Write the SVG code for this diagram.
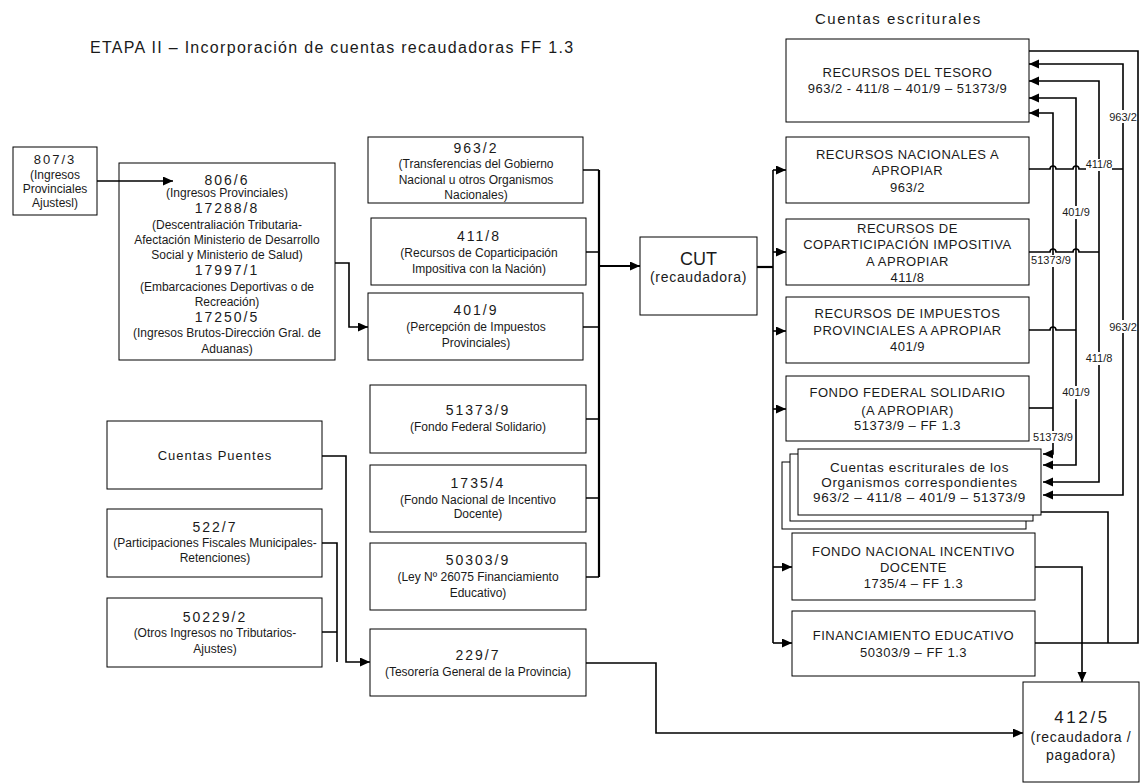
<svg xmlns="http://www.w3.org/2000/svg" width="1141" height="784" viewBox="0 0 1141 784">
<style>
.box{fill:#fff;stroke:#000;stroke-width:1}
text{font-family:"Liberation Sans",Arial,sans-serif;fill:#1a1a1a}
.c{text-anchor:middle}
.s{font-size:12px}
.n{font-size:14px;letter-spacing:2px}
.u{font-size:13px;letter-spacing:0.5px}
.m{font-size:13.5px;letter-spacing:0.6px}
.lbl{font-size:11px;text-anchor:middle}
.ln{fill:none;stroke:#000;stroke-width:1.6}
.thick{fill:none;stroke:#000;stroke-width:2.2}
.bg{fill:#fff;stroke:none}
</style>
<defs>
<marker id="ah" markerUnits="userSpaceOnUse" markerWidth="11" markerHeight="10" refX="10" refY="4.5" orient="auto">
<path d="M0,0 L10,4.5 L0,9 z" fill="#000"/>
</marker>
</defs>

<text x="90" y="53" style="font-size:16px;letter-spacing:1.3px">ETAPA II – Incorporación de cuentas recaudadoras FF 1.3</text>
<text x="815" y="24" style="font-size:15px;letter-spacing:1.5px">Cuentas escriturales</text>

<g id="n8073">
<rect class="box" x="13" y="147" width="84" height="68"/>
<text class="c" x="55" y="164" style="font-size:13px;letter-spacing:2px">807/3</text>
<text class="c s" x="55" y="179">(Ingresos</text>
<text class="c s" x="55" y="193">Provinciales</text>
<text class="c s" x="55" y="207">Ajustesl)</text>
</g>

<g id="n8066">
<rect class="box" x="119" y="163" width="216" height="197"/>
<text class="c n" x="227" y="185">806/6</text>
<text class="c s" x="227" y="197">(Ingresos Provinciales)</text>
<text class="c n" x="227" y="213">17288/8</text>
<text class="c s" x="227" y="229">(Descentraliación Tributaria-</text>
<text class="c s" x="227" y="244">Afectación Ministerio de Desarrollo</text>
<text class="c s" x="227" y="259">Social y Ministerio de Salud)</text>
<text class="c n" x="227" y="275">17997/1</text>
<text class="c s" x="227" y="291">(Embarcaciones Deportivas o de</text>
<text class="c s" x="227" y="306">Recreación)</text>
<text class="c n" x="227" y="322">17250/5</text>
<text class="c s" x="227" y="337">(Ingresos Brutos-Dirección Gral. de</text>
<text class="c s" x="227" y="353">Aduanas)</text>
</g>

<g id="n9632">
<rect class="box" x="368" y="137" width="215" height="66"/>
<text class="c n" x="476" y="153">963/2</text>
<text class="c s" x="476" y="168">(Transferencias del Gobierno</text>
<text class="c s" x="476" y="184">Nacional u otros Organismos</text>
<text class="c s" x="476" y="199">Nacionales)</text>
</g>

<g id="n4118">
<rect class="box" x="371" y="218" width="215" height="67"/>
<text class="c n" x="479" y="241">411/8</text>
<text class="c s" x="479" y="257">(Recursos de Coparticipación</text>
<text class="c s" x="479" y="273">Impositiva con la Nación)</text>
</g>

<g id="n4019">
<rect class="box" x="368" y="293" width="215" height="67"/>
<text class="c n" x="476" y="315">401/9</text>
<text class="c s" x="476" y="331">(Percepción de Impuestos</text>
<text class="c s" x="476" y="347">Provinciales)</text>
</g>

<g id="n513739">
<rect class="box" x="370" y="385" width="216" height="68"/>
<text class="c n" x="478" y="415">51373/9</text>
<text class="c s" x="478" y="431">(Fondo Federal Solidario)</text>
</g>

<g id="n17354">
<rect class="box" x="370" y="465" width="216" height="67"/>
<text class="c n" x="478" y="488">1735/4</text>
<text class="c s" x="478" y="504">(Fondo Nacional de Incentivo</text>
<text class="c s" x="478" y="518">Docente)</text>
</g>

<g id="n503039">
<rect class="box" x="370" y="543" width="216" height="67"/>
<text class="c n" x="478" y="565">50303/9</text>
<text class="c s" x="478" y="581">(Ley Nº 26075 Financiamiento</text>
<text class="c s" x="478" y="597">Educativo)</text>
</g>

<g id="n2297">
<rect class="box" x="370" y="629" width="216" height="67"/>
<text class="c n" x="478" y="660">229/7</text>
<text class="c s" x="478" y="676">(Tesorería General de la Provincia)</text>
</g>

<g id="puentes">
<rect class="box" x="107" y="421" width="215" height="68"/>
<text class="c" x="215" y="460" style="font-size:13px;letter-spacing:1px">Cuentas Puentes</text>
</g>

<g id="n5227">
<rect class="box" x="107" y="509" width="215" height="68"/>
<text class="c n" x="215" y="532">522/7</text>
<text class="c s" x="215" y="547">(Participaciones Fiscales Municipales-</text>
<text class="c s" x="215" y="562">Retenciones)</text>
</g>

<g id="n502292">
<rect class="box" x="107" y="598" width="215" height="69"/>
<text class="c n" x="215" y="622">50229/2</text>
<text class="c s" x="215" y="637">(Otros Ingresos no Tributarios-</text>
<text class="c s" x="215" y="653">Ajustes)</text>
</g>

<g id="cut">
<rect class="box" x="640" y="237" width="117" height="78"/>
<text class="c" x="698.5" y="264.5" style="font-size:18px">CUT</text>
<text class="c" x="698.5" y="282" style="font-size:14px;letter-spacing:0.7px">(recaudadora)</text>
</g>

<g id="n4125">
<rect class="box" x="1023" y="682" width="116" height="100"/>
<text class="c" x="1082" y="723" style="font-size:17px;letter-spacing:2.6px">412/5</text>
<text class="c" x="1081" y="742" style="font-size:14px;letter-spacing:0.7px">(recaudadora /</text>
<text class="c" x="1081" y="760" style="font-size:14px;letter-spacing:0.7px">pagadora)</text>
</g>

<g id="tesoro">
<rect class="box" x="786" y="39" width="243" height="83"/>
<text class="c u" x="907.5" y="76.5">RECURSOS DEL TESORO</text>
<text class="c u" x="907.5" y="92.5">963/2 - 411/8 – 401/9 – 51373/9</text>
</g>

<g id="nacionales">
<rect class="box" x="786" y="137" width="243" height="66"/>
<text class="c u" x="907.5" y="158.5">RECURSOS NACIONALES A</text>
<text class="c u" x="907.5" y="174.5">APROPIAR</text>
<text class="c u" x="907.5" y="191.5">963/2</text>
</g>

<g id="coparticipacion">
<rect class="box" x="786" y="219" width="243" height="66"/>
<text class="c u" x="907.5" y="232.5">RECURSOS DE</text>
<text class="c u" x="907.5" y="248.5">COPARTICIPACIÓN IMPOSITIVA</text>
<text class="c u" x="907.5" y="265.5">A APROPIAR</text>
<text class="c u" x="907.5" y="281.5">411/8</text>
</g>

<g id="impuestos">
<rect class="box" x="786" y="297" width="243" height="66"/>
<text class="c u" x="907.5" y="317.5">RECURSOS DE IMPUESTOS</text>
<text class="c u" x="907.5" y="334.5">PROVINCIALES A APROPIAR</text>
<text class="c u" x="907.5" y="350.5">401/9</text>
</g>

<g id="fondofederal">
<rect class="box" x="786" y="376" width="243" height="65"/>
<text class="c u" x="907.5" y="396.5">FONDO FEDERAL SOLIDARIO</text>
<text class="c u" x="907.5" y="414.5">(A APROPIAR)</text>
<text class="c u" x="907.5" y="429.5">51373/9 – FF 1.3</text>
</g>

<g id="organismos">
<rect class="box" x="782" y="462" width="244" height="67"/>
<rect class="box" x="790" y="454" width="243" height="67"/>
<rect class="box" x="798" y="449" width="243" height="66"/>
<text class="c m" x="919.5" y="471.5">Cuentas escriturales de los</text>
<text class="c m" x="919.5" y="486.5">Organismos correspondientes</text>
<text class="c m" x="919.5" y="501.5">963/2 – 411/8 – 401/9 – 51373/9</text>
</g>

<g id="fondonacional">
<rect class="box" x="792" y="533" width="243" height="67"/>
<text class="c u" x="913.5" y="555.5">FONDO NACIONAL INCENTIVO</text>
<text class="c u" x="913.5" y="571.5">DOCENTE</text>
<text class="c u" x="913.5" y="587.5">1735/4 – FF 1.3</text>
</g>

<g id="financiamiento">
<rect class="box" x="792" y="611" width="243" height="65"/>
<text class="c u" x="913.5" y="639.5">FINANCIAMIENTO EDUCATIVO</text>
<text class="c u" x="913.5" y="656.5">50303/9 – FF 1.3</text>
</g>

<g id="connectors">
<path class="ln" d="M97,181 H173" marker-end="url(#ah)"/>
<path class="ln" d="M335,263 H349 V327 H368" marker-end="url(#ah)"/>
<path class="ln" d="M583,170 H599 M586,252 H599 M583,327 H599 M586,419 H599 M586,498 H599 M586,577 H599"/>
<path class="thick" d="M599,170 V577"/>
<path class="thick" d="M599,266 H640" marker-end="url(#ah)"/>
<path class="thick" d="M757,267 H773"/>
<path class="ln" d="M773,170 V643"/>
<path class="ln" d="M773,170 H786" marker-end="url(#ah)"/>
<path class="ln" d="M773,252 H786" marker-end="url(#ah)"/>
<path class="ln" d="M773,331 H786" marker-end="url(#ah)"/>
<path class="ln" d="M773,409 H786" marker-end="url(#ah)"/>
<path class="ln" d="M773,567 H792" marker-end="url(#ah)"/>
<path class="ln" d="M773,643 H792" marker-end="url(#ah)"/>
<path class="ln" d="M322,456 H346 V662 H370" marker-end="url(#ah)"/>
<path class="ln" d="M322,543 H337 V662 M322,632 H337"/>
<path class="ln" d="M586,663 H656 V733 H1023" marker-end="url(#ah)"/>
<path class="ln" d="M1035,567 H1082 V682" marker-end="url(#ah)"/>
<path class="ln" d="M1035,643 H1138 V51 H1029 M1041,512 H1108 V643"/>
<path class="ln" d="M1029,169 H1050 a3,3 0 0 1 6,0 H1073 a3,3 0 0 1 6,0 H1123"/>
<path class="ln" d="M1123,280 V64 H1029" marker-end="url(#ah)"/>
<path class="ln" d="M1123,280 V495 H1043" marker-end="url(#ah)"/>
<path class="ln" d="M1029,252 H1050 a3,3 0 0 1 6,0 H1073 a3,3 0 0 1 6,0 H1099"/>
<path class="ln" d="M1099,252 V81 H1029" marker-end="url(#ah)"/>
<path class="ln" d="M1099,252 V482 H1043" marker-end="url(#ah)"/>
<path class="ln" d="M1029,330 H1050 a3,3 0 0 1 6,0 H1076"/>
<path class="ln" d="M1076,330 V98 H1029" marker-end="url(#ah)"/>
<path class="ln" d="M1076,330 V465 H1043" marker-end="url(#ah)"/>
<path class="ln" d="M1029,408 H1053"/>
<path class="ln" d="M1053,408 V113 H1029" marker-end="url(#ah)"/>
<path class="ln" d="M1053,408 V454 H1043" marker-end="url(#ah)"/>
</g>

<g id="line-labels">
<rect class="bg" x="1109" y="110" width="28" height="13"/>
<text class="lbl" x="1123" y="120.5">963/2</text>
<rect class="bg" x="1109" y="320" width="28" height="13"/>
<text class="lbl" x="1123" y="330.5">963/2</text>
<rect class="bg" x="1086" y="159" width="26" height="12"/>
<text class="lbl" x="1099" y="168">411/8</text>
<rect class="bg" x="1086" y="352" width="26" height="13"/>
<text class="lbl" x="1099" y="362">411/8</text>
<rect class="bg" x="1063" y="206" width="26" height="13"/>
<text class="lbl" x="1076" y="216">401/9</text>
<rect class="bg" x="1063" y="386" width="26" height="13"/>
<text class="lbl" x="1076" y="396">401/9</text>
<rect class="bg" x="1033" y="255" width="36" height="12"/>
<text class="lbl" x="1051" y="264">51373/9</text>
<rect class="bg" x="1035" y="431" width="36" height="12"/>
<text class="lbl" x="1053" y="441">51373/9</text>
</g>
</svg>
